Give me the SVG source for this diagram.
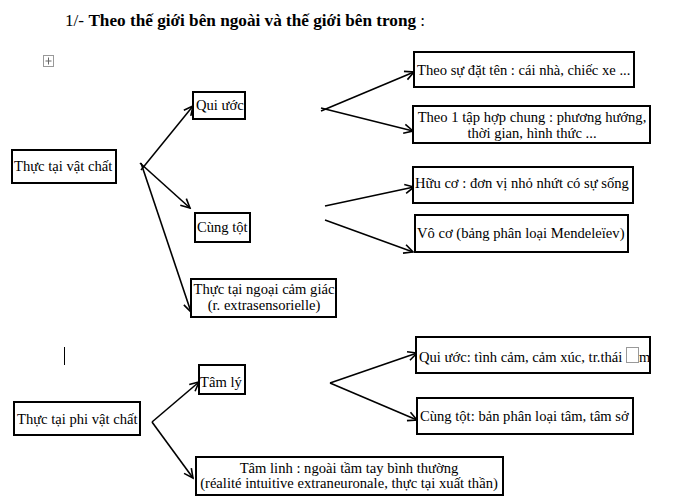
<svg xmlns="http://www.w3.org/2000/svg" width="700" height="496" viewBox="0 0 700 496">
<style>
.box{fill:#fff;stroke:#000;stroke-width:2}
.t{font-family:"Liberation Serif","Times New Roman",serif;font-size:14.6px;fill:#000}
.c{text-anchor:middle}
.ln{fill:none;stroke:#000;stroke-width:1.6;marker-end:url(#ah)}
</style>
<defs>
<marker id="ah" markerUnits="userSpaceOnUse" markerWidth="12" markerHeight="12" refX="10" refY="5" orient="auto" viewBox="0 0 12 10">
<path d="M1,0.5 L10,5 L1,9.5" fill="none" stroke="#000" stroke-width="1.6"/>
</marker>
</defs>
<rect width="700" height="496" fill="#fff"/>
<text x="65" y="26" font-family="'Liberation Serif','Times New Roman',serif" font-size="17.2"><tspan>1/- </tspan><tspan font-weight="bold">Theo thế giới bên ngoài và thế giới bên trong</tspan><tspan> :</tspan></text>
<g id="move-icon">
<rect x="43.5" y="55.5" width="10" height="11" fill="#fff" stroke="#999" stroke-width="1"/>
<path d="M48.5,57.5 V64.5 M45.5,61 H51.5" stroke="#666" stroke-width="1"/>
</g>
<line x1="64.5" y1="347" x2="64.5" y2="365" stroke="#000" stroke-width="1"/>
<g id="connectors">
<path class="ln" d="M141,170 L193,106"/>
<path class="ln" d="M140,163 L190,208"/>
<path class="ln" d="M141,163 L191,312"/>
<path class="ln" d="M321,111 L414,72"/>
<path class="ln" d="M321,108 L413,131"/>
<path class="ln" d="M325,206 L414,187"/>
<path class="ln" d="M325,220 L413,252"/>
<path class="ln" d="M152,422 L199,382"/>
<path class="ln" d="M152,422 L193,478"/>
<path class="ln" d="M330,383 L417,353"/>
<path class="ln" d="M330,383 L417,420"/>
</g>
<g id="n-vatchat"><rect class="box" x="12" y="150" width="104" height="33"/><text class="t" x="14" y="171">Thực tại vật chất</text></g>
<g id="n-quiuoc"><rect class="box" x="193" y="92" width="52" height="27"/><text class="t" x="196" y="110">Qui ước</text></g>
<g id="n-cungtot"><rect class="box" x="195" y="213" width="55" height="29"/><text class="t" x="197" y="232">Cùng tột</text></g>
<g id="n-ngoaicam"><rect class="box" x="191" y="279" width="145" height="38"/><text class="t c" x="264" y="294">Thực tại ngoại cảm giác</text><text class="t c" x="264" y="310">(r. extrasensorielle)</text></g>
<g id="n-datten"><rect class="box" x="414" y="52" width="220" height="35"/><text class="t" x="417" y="75">Theo sự đặt tên : cái nhà, chiếc xe ...</text></g>
<g id="n-taphop"><rect class="box" x="413" y="106" width="237" height="37"/><text class="t c" x="532" y="122">Theo 1 tập hợp chung : phương hướng,</text><text class="t c" x="532" y="138">thời gian, hình thức ...</text></g>
<g id="n-huuco"><rect class="box" x="413" y="167" width="220" height="36"/><text class="t" x="415" y="188">Hữu cơ : đơn vị nhỏ nhứt có sự sống</text></g>
<g id="n-voco"><rect class="box" x="415" y="215" width="213" height="37"/><text class="t" x="417" y="238">Vô cơ (bảng phân loại Mendeleïev)</text></g>
<g id="n-phivatchat"><rect class="box" x="14" y="402" width="126" height="33"/><text class="t" x="17" y="424">Thực tại phi vật chất</text></g>
<g id="n-tamly"><rect class="box" x="199" y="365" width="46" height="29"/><text class="t" x="200" y="387">Tâm lý</text></g>
<g id="n-tamlinh"><rect class="box" x="196" y="457" width="307" height="38"/><text class="t c" x="349" y="473">Tâm linh : ngoài tầm tay bình thường</text><text class="t c" x="349" y="488">(réalité intuitive extraneuronale, thực tại xuất thần)</text></g>
<g id="n-quiuoc2"><rect class="box" x="416" y="337" width="234" height="36"/><text class="t" x="419" y="362">Qui ước: tình cảm, cảm xúc, tr.thái</text><rect x="626.5" y="347.5" width="12" height="15" fill="none" stroke="#999" stroke-width="1"/><text class="t" x="639" y="362">m</text></g>
<g id="n-cungtot2"><rect class="box" x="417" y="398" width="216" height="36"/><text class="t" x="420" y="421">Cùng tột: bản phân loại tâm, tâm sở</text></g>
</svg>
